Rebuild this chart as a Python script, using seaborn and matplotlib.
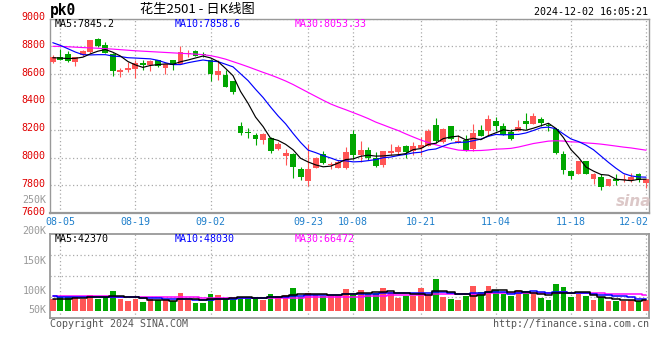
import numpy as np
import pandas as pd
import matplotlib
matplotlib.use("Agg")
import matplotlib.pyplot as plt
import matplotlib.transforms as mtransforms
import seaborn as sns

# ---------------- data ----------------
dates = ["08-02",
         "08-05", "08-06", "08-07", "08-08", "08-09", "08-12", "08-13", "08-14", "08-15", "08-16",
         "08-19", "08-20", "08-21", "08-22", "08-23", "08-26", "08-27", "08-28", "08-29", "08-30",
         "09-02", "09-03", "09-04", "09-05", "09-06", "09-09", "09-10", "09-11", "09-12", "09-13",
         "09-18", "09-19", "09-20", "09-23", "09-24", "09-25", "09-26", "09-27", "09-30",
         "10-08", "10-09", "10-10", "10-11", "10-14", "10-15", "10-16", "10-17", "10-18",
         "10-21", "10-22", "10-23", "10-24", "10-25", "10-28", "10-29", "10-30", "10-31",
         "11-01", "11-04", "11-05", "11-06", "11-07", "11-08", "11-11", "11-12", "11-13", "11-14",
         "11-15", "11-18", "11-19", "11-20", "11-21", "11-22", "11-25", "11-26", "11-27", "11-28",
         "11-29", "12-02"]

opens = [8690, 8725, 8743, 8690, 8735, 8760, 8850, 8807, 8747, 8613, 8632,
         8635, 8680, 8663, 8700, 8644, 8700, 8675, 8742, 8765, 8747,
         8702, 8595, 8595, 8548, 8231, 8181, 8162, 8124, 8143, 8060,
         8014, 8024, 7917, 7833, 7929, 8024, 7950, 7924, 7929,
         8167, 8021, 8057, 7998, 7945, 8033, 8038, 8081, 8050,
         8069, 8081, 8236, 8110, 8229, 8105, 8129, 8064, 8200,
         8193, 8264, 8224, 8183, 8188, 8260, 8243, 8279, 8236, 8207,
         8026, 7902, 7883, 7974, 7850, 7860, 7795, 7843, 7836, 7836,
         7883, 7819]
highs = [8735, 8780, 8770, 8725, 8775, 8845, 8862, 8830, 8750, 8645, 8690,
         8705, 8705, 8705, 8705, 8675, 8705, 8802, 8776, 8776, 8760,
         8710, 8702, 8631, 8552, 8255, 8210, 8179, 8179, 8148, 8114,
         8064, 8036, 7936, 8095, 8007, 8048, 7972, 7981, 8076,
         8202, 8117, 8074, 8040, 8050, 8100, 8093, 8093, 8110,
         8145, 8207, 8288, 8212, 8229, 8164, 8164, 8243, 8236,
         8307, 8295, 8248, 8207, 8271, 8319, 8319, 8295, 8248, 8212,
         8045, 7914, 7979, 7979, 7890, 7879, 7843, 7883, 7879, 7890,
         7890, 7850]
lows = [8680, 8700, 8690, 8660, 8730, 8755, 8795, 8750, 8585, 8580, 8615,
        8575, 8630, 8625, 8650, 8603, 8628, 8670, 8720, 8728, 8723,
        8548, 8560, 8505, 8460, 8162, 8138, 8090, 8095, 8036, 8055,
        7945, 7857, 7840, 7798, 7924, 7952, 7917, 7924, 7917,
        7988, 7969, 7986, 7933, 7931, 8021, 8021, 7998, 8021,
        8017, 8081, 8105, 8105, 8129, 8105, 8050, 8050, 8152,
        8160, 8188, 8160, 8129, 8188, 8207, 8243, 8224, 8193, 8029,
        7879, 7843, 7879, 7879, 7814, 7771, 7795, 7802, 7826, 7826,
        7826, 7783]
closes = [8725, 8705, 8695, 8720, 8765, 8843, 8802, 8755, 8622, 8630, 8645,
          8680, 8666, 8692, 8660, 8670, 8666, 8757, 8755, 8733, 8740,
          8600, 8626, 8507, 8471, 8174, 8174, 8131, 8167, 8048, 8100,
          8033, 7933, 7862, 7917, 7995, 7964, 7957, 7972, 8043,
          8019, 8057, 7998, 7938, 8050, 8045, 8074, 8038, 8081,
          8088, 8193, 8117, 8207, 8136, 8121, 8057, 8176, 8157,
          8279, 8224, 8164, 8136, 8219, 8240, 8300, 8252, 8224, 8033,
          7910, 7867, 7974, 7879, 7886, 7788, 7843, 7831, 7850, 7860,
          7836, 7850]
volumes = [47000, 55000, 58000, 56000, 50000, 64000, 50000, 58000, 82000, 47000, 42000,
           50000, 36000, 47000, 43000, 43000, 42000, 73000, 44000, 32000, 32000,
           69000, 65000, 53000, 50000, 57000, 57000, 57000, 44000, 69000, 61000,
           65000, 94000, 58000, 73000, 64000, 61000, 61000, 61000, 90000,
           64000, 86000, 69000, 72000, 94000, 78000, 53000, 61000, 61000,
           94000, 64000, 132000, 57000, 49000, 44000, 61000, 103000, 78000,
           103000, 86000, 69000, 61000, 86000, 82000, 69000, 53000, 44000, 111000,
           98000, 57000, 69000, 61000, 44000, 55000, 40000, 40000, 42000, 43000,
           41000, 46000]

# moving-average values before a full window is available
ma5_lead = [8718, 8716, 8712, 8714]
ma10_lead = [8826, 8807, 8783, 8759, 8740, 8738, 8740, 8740, 8730]
ma30_lead = [8800, 8800, 8797, 8794, 8791, 8789, 8786, 8783, 8780, 8776,
             8772, 8768, 8765, 8762, 8759, 8756, 8753, 8750, 8747, 8744,
             8740, 8733, 8722, 8708, 8690, 8672, 8653, 8633, 8613]
vma5_lead = [47000, 48000, 50000, 52000]
vma10_lead = [62000, 58000, 56000, 55000, 55000, 55000, 55000, 56000, 57000]
vma30_lead = [60000, 60000, 60000, 59000, 59000, 59000, 59000, 59000, 58000, 58000,
              58000, 57000, 57000, 57000, 56000, 56000, 56000, 55000, 55000, 55000,
              54000, 54000, 54000, 54000, 53000, 53000, 53000, 53000, 52000]

tick_dates = ["08-05", "08-19", "09-02", "09-23", "10-08", "10-21", "11-04", "11-18", "12-02"]
price_ticks = [9000, 8800, 8600, 8400, 8200, 8000, 7800, 7600]
vol_labels = ["200K", "150K", "100K", "50K"]
price_legend = ["MA5:7845.2", "MA10:7858.6", "MA30:8053.33"]
vol_legend = ["MA5:42370", "MA10:48030", "MA30:66472"]
title = "花生2501 - 日K线图"
code = "pk0"
stamp = "2024-12-02 16:05:21"

# ---------------- helpers ----------------
def ma_with_lead(values, window, lead):
    s = pd.Series(values, dtype=float).rolling(window).mean()
    s.iloc[:window - 1] = lead
    return s.to_numpy()

RED = "#FF5555"
GREEN = "#00A600"
GRID = "#AAAAAA"
FRAME = "#999999"
MONO = "DejaVu Sans Mono"
FS = 7.2

sns.set_style("white")
plt.rcParams["font.family"] = [MONO, "Noto Sans CJK SC"]

W, H = 660, 360
fig = plt.figure(figsize=(W / 100, H / 100), dpi=100)
fig.patch.set_facecolor("white")

def fx(x):
    return x / W

def fy(y):
    return 1 - y / H

L, R = 50, 649.3
ax = fig.add_axes([fx(L), fy(213.3), (R - L) / W, (213.3 - 18.5) / H])
axv = fig.add_axes([fx(L), fy(318.3), (R - L) / W, (318.3 - 234.3) / H])

n = len(dates)
x = np.arange(n)
o = np.array(opens, float)
c = np.array(closes, float)
hi = np.array(highs, float)
lo = np.array(lows, float)
vol = np.array(volumes, float)
cols = np.where(c >= o, RED, GREEN)
tick_idx = [dates.index(d) for d in tick_dates]
xlim = (-0.373, 79.43)

# ---------------- price panel ----------------
ax.vlines(x, lo, hi, colors=cols, lw=0.8, zorder=3)
body_bottom = np.minimum(o, c)
body_h = np.maximum(np.abs(c - o), 6)
ax.bar(x, body_h, bottom=body_bottom, width=0.78, color=cols, linewidth=0, zorder=3)

ma5 = ma_with_lead(closes, 5, ma5_lead)
ma10 = ma_with_lead(closes, 10, ma10_lead)
ma30 = ma_with_lead(closes, 30, ma30_lead)
sns.lineplot(x=x, y=ma30, color="#FF00FF", lw=0.85, ax=ax, legend=False, zorder=4)
sns.lineplot(x=x, y=ma10, color="#0000FF", lw=0.85, ax=ax, legend=False, zorder=4)
sns.lineplot(x=x, y=ma5, color="black", lw=0.85, ax=ax, legend=False, zorder=4)

ax.set_xlim(*xlim)
ax.set_ylim(7600, 9000)
ax.set_yticks(price_ticks)
ax.set_yticklabels([str(t) for t in price_ticks])
ax.set_xticks(tick_idx)
ax.set_xticklabels(tick_dates)
ax.tick_params(axis="y", length=0, pad=3.5, labelsize=FS, labelcolor="#E00000")
ax.tick_params(axis="x", length=0, pad=2.5, labelsize=FS, labelcolor="#1E7FCB")
offset = mtransforms.ScaledTranslation(0, 2.5 / 100, fig.dpi_scale_trans)
for lbl in ax.get_yticklabels():
    lbl.set_transform(lbl.get_transform() + offset)
xl = ax.get_xticklabels()
xl[-1].set_horizontalalignment("right")
xl[-1].set_transform(xl[-1].get_transform() +
                     mtransforms.ScaledTranslation(3 / 100, 0, fig.dpi_scale_trans))
ax.grid(True, ls=(0, (1, 2)), color=GRID, lw=0.9)
ax.set_xlabel("")
ax.set_ylabel("")
for s in ax.spines.values():
    s.set_color(FRAME)
    s.set_linewidth(1.0)
ax.spines["bottom"].set_linewidth(1.6)

# ---------------- volume panel ----------------
axv.bar(x, vol, width=0.76, color=cols, linewidth=0, zorder=3)
vma5 = ma_with_lead(volumes, 5, vma5_lead)
vma10 = ma_with_lead(volumes, 10, vma10_lead)
vma30 = ma_with_lead(volumes, 30, vma30_lead)
sns.lineplot(x=x, y=vma30, color="#FF00FF", lw=1.1, ax=axv, legend=False, zorder=4,
             drawstyle="steps-mid")
sns.lineplot(x=x, y=vma10, color="#0000FF", lw=1.1, ax=axv, legend=False, zorder=4,
             drawstyle="steps-mid")
sns.lineplot(x=x, y=vma5, color="black", lw=1.1, ax=axv, legend=False, zorder=4,
             drawstyle="steps-mid")
vlim = (-31600, 317400)
axv.set_xlim(*xlim)
axv.set_ylim(*vlim)
axv.set_yticks([vlim[0] + f * (vlim[1] - vlim[0]) for f in (0.25, 0.5, 0.75)])
axv.set_yticklabels([])
axv.set_xticks(tick_idx)
axv.set_xticklabels([])
axv.tick_params(length=0)
axv.grid(True, ls=(0, (1, 2)), color=GRID, lw=0.9)
axv.set_xlabel("")
axv.set_ylabel("")
for s in axv.spines.values():
    s.set_color(FRAME)
    s.set_linewidth(1.3)

for lab, ypix in zip(vol_labels, [230.7, 260.7, 290.7, 310.0]):
    fig.text(fx(46.5), fy(ypix), lab, ha="right", va="center", size=FS, color="#999999",
             family=MONO)
fig.text(fx(46.5), fy(200), "250K", ha="right", va="center", size=FS, color="#999999",
         family=MONO)

# ---------------- texts ----------------
fig.text(fx(50), fy(11), code, ha="left", va="center", size=10.5, weight="bold",
         family=MONO, color="black")
fig.text(fx(140), fy(10), title, ha="left", va="center", size=9.5,
         family=["Noto Sans CJK SC", MONO], color="black")
fig.text(fx(648.5), fy(12), stamp, ha="right", va="center", size=FS, family=MONO,
         color="black")

for lab, xp, col in zip(price_legend, [55, 175, 295], ["black", "#0000FF", "#FF00FF"]):
    fig.text(fx(xp), fy(24), lab, ha="left", va="center", size=FS, family=MONO, color=col)
for lab, xp, col in zip(vol_legend, [55, 175, 295], ["black", "#0000FF", "#FF00FF"]):
    fig.text(fx(xp), fy(238.5), lab, ha="left", va="center", size=FS, family=MONO, color=col)

fig.text(fx(50), fy(324), "Copyright 2024 SINA.COM", ha="left", va="center", size=FS,
         family=MONO, color="#555555")
fig.text(fx(649.3), fy(324), "http://finance.sina.com.cn", ha="right", va="center",
         size=FS, family=MONO, color="#555555")
fig.text(fx(634), fy(201), "sina", ha="center", va="center", size=11, style="italic",
         weight="bold", family="DejaVu Sans", color="#DCC8C8")

fig.savefig("out.png", dpi=100, facecolor="white")
